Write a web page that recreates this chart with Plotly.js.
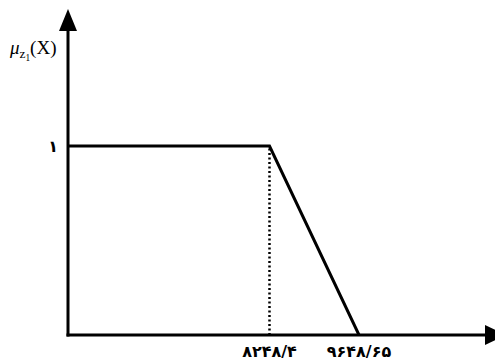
<!DOCTYPE html>
<html>
<head>
<meta charset="utf-8">
<script src="https://cdn.plot.ly/plotly-3.0.1.min.js"></script>
<style>html,body{margin:0;padding:0;background:#fff;}#chart{width:495px;height:363px;}</style>
</head>
<body>
<div id="chart"></div>
<script>
// membership function points
const xStart = 5096;          // left end of the plateau (at the vertical axis)
const xCorner = 8248.4;       // end of plateau
const xEnd = 9648.65;         // membership reaches zero
const muValues = [1, 1, 0];
const xTickVals = [8248.4, 9648.65];
const xTickText = ['۸۲۴۸/۴', '۹۶۴۸/۶۵'];
const yTickVals = [1];
const yTickText = ['۱'];

const traces = [
  {
    x: [xStart, xCorner, xEnd], y: muValues,
    mode: 'lines', line: {color: '#000', width: 3}, hoverinfo: 'skip'
  },
  {
    x: [xCorner, xCorner], y: [0, 1],
    mode: 'lines', line: {color: '#000', width: 2.5, dash: '2px,2.5px'}, hoverinfo: 'skip'
  }
];

const layout = {
  width: 495, height: 363,
  margin: {l: 68, r: 10, t: 13, b: 28},
  paper_bgcolor: '#fff', plot_bgcolor: '#fff',
  showlegend: false,
  xaxis: {
    range: [5096, 11620], showgrid: false, zeroline: false, showline: false,
    tickvals: xTickVals, ticktext: xTickText, ticks: '',
    tickfont: {family: 'DejaVu Sans', size: 16, color: '#000', weight: 'bold'},
    ticklabelstandoff: 5
  },
  yaxis: {
    range: [0, 1.704], showgrid: false, zeroline: false, showline: false,
    tickvals: yTickVals, ticktext: yTickText, ticks: '',
    tickfont: {family: 'DejaVu Sans', size: 16, color: '#000', weight: 'bold'},
    ticklabelstandoff: 9
  },
  shapes: [
    // vertical axis
    {type: 'line', xref: 'paper', yref: 'paper', x0: 0, x1: 0, y0: -0.005, y1: 0.95,
     line: {color: '#000', width: 3}, layer: 'above'},
    {type: 'path', xref: 'paper', yref: 'paper', xsizemode: 'pixel', ysizemode: 'pixel',
     xanchor: 0, yanchor: 1, path: 'M-9,-18 L9,-18 L0,4 Z',
     fillcolor: '#000', line: {color: '#000', width: 0}, layer: 'above'},
    // horizontal axis
    {type: 'line', xref: 'paper', yref: 'paper', x0: -0.0036, x1: 1.0, y0: 0, y1: 0,
     line: {color: '#000', width: 3}, layer: 'above'},
    {type: 'path', xref: 'paper', yref: 'paper', xsizemode: 'pixel', ysizemode: 'pixel',
     xanchor: 1, yanchor: 0, path: 'M0,-10 L0,10 L21,0 Z',
     fillcolor: '#000', line: {color: '#000', width: 0}, layer: 'above'}
  ],
  annotations: [
    {xref: 'paper', yref: 'paper', x: -0.083, y: 0.885, xanchor: 'center', yanchor: 'middle',
     text: '<i>μ</i><sub>z<sub>1</sub></sub>(X)', showarrow: false,
     font: {family: 'Liberation Serif', size: 19, color: '#000'}}
  ]
};

Plotly.newPlot('chart', traces, layout, {displayModeBar: false, staticPlot: true});
</script>
</body>
</html>
